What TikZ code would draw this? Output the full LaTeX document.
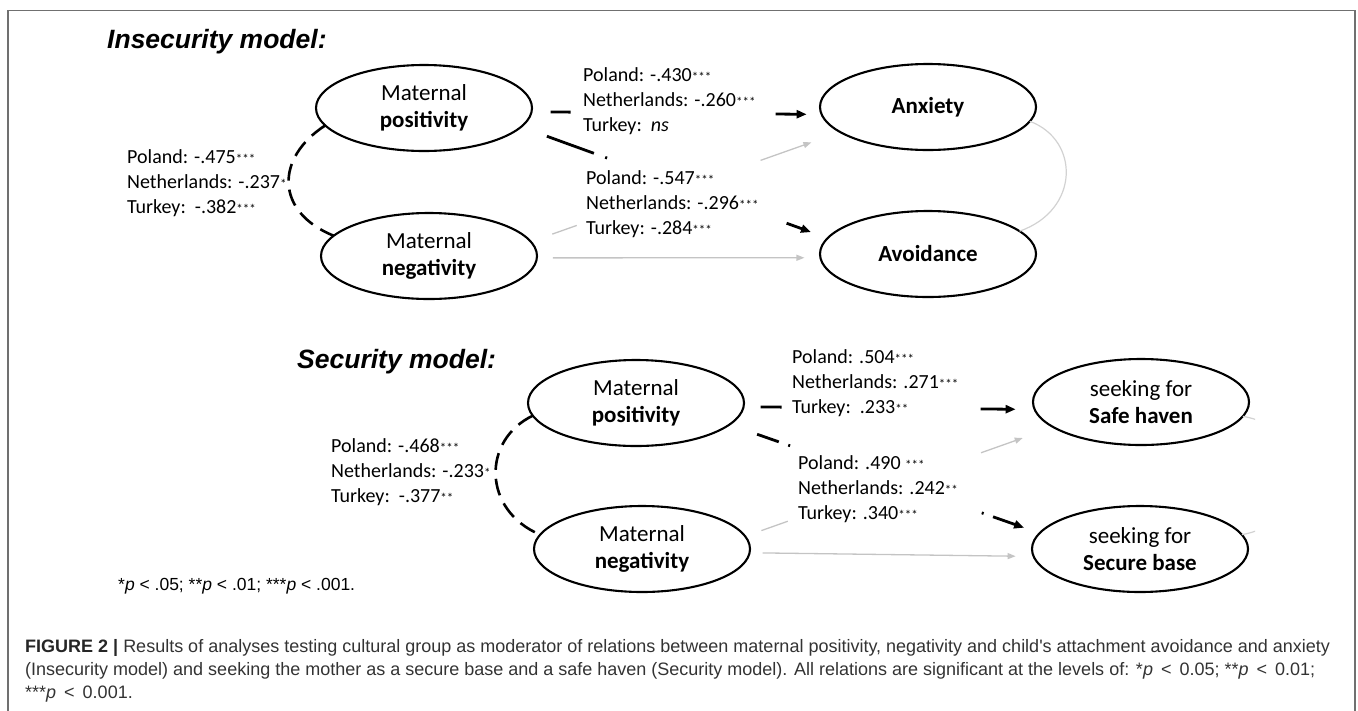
\documentclass[tikz,border=0pt]{standalone}
\usepackage{fontspec}
\setmainfont{Carlito}
\newfontfamily\arialf{Liberation Sans}
\usetikzlibrary{arrows.meta,shapes.geometric}
\definecolor{framegray}{HTML}{707070}
\definecolor{linegray}{HTML}{C4C4C4}
\definecolor{arcgray}{HTML}{D2D2D2}
\definecolor{captxt}{HTML}{333333}
\newcommand{\sg}[1]{{\fontsize{13}{13}\selectfont #1}}
\begin{document}
\begin{tikzpicture}[x=1pt,y=-1pt,
  lat/.style={draw=black, line width=2.1pt, ellipse, minimum width=216pt, minimum height=86pt,
    inner sep=0pt, outer sep=0pt, align=center, font=\fontsize{23}{27}\selectfont},
  lab/.style={anchor=north west, inner sep=0pt, align=left, font=\fontsize{20}{25}\selectfont},
  ttl/.style={anchor=west, inner sep=0pt, font=\arialf\bfseries\itshape\fontsize{26.5}{30}\selectfont},
  dpath/.style={draw=black, line width=2.8pt, -{Triangle[length=10pt,width=8pt]}},
  gpath/.style={draw=linegray, line width=1.3pt, -{Triangle[length=8pt,width=6pt]}},
  garc/.style={draw=arcgray, line width=1.2pt},
  corr/.style={draw=black, line width=2.6pt, dash pattern=on 17pt off 9pt},
  captext/.style={anchor=west, inner sep=0pt, text=captxt, font=\arialf\fontsize{18}{22}\selectfont},
  pnote/.style={anchor=west, inner sep=0pt, font=\arialf\fontsize{17.5}{20}\selectfont}]
\path[use as bounding box] (0,0) rectangle (1358,710);
\draw[framegray, line width=1.8pt] (8,10.5) rectangle (1355,760);

% ---------- Insecurity model ----------
\node[ttl] (t1) at (107,42) {Insecurity model:};
\node[lat] (pos1) at (424,108) {Maternal\\\textbf{positivity}};
\node[lat] (neg1) at (429,256) {Maternal\\\textbf{negativity}};
\node[lat] (anx) at (928,107) {\textbf{Anxiety}};
\node[lat] (avo) at (928,254) {\textbf{Avoidance}};

\node[lab] (c1) at (127,149) {Poland: -.475\sg{***}\\Netherlands: -.237\sg{*}\\Turkey:\ \ -.382\sg{***}};
\node[lab] (e1) at (583,67) {Poland: -.430\sg{***}\\Netherlands: -.260\sg{***}\\Turkey:\ \ \textit{ns}};
\node[lab] (e2) at (586,170) {Poland: -.547\sg{***}\\Netherlands: -.296\sg{***}\\Turkey: -.284\sg{***}};

\draw[corr] (pos1.190) .. controls (275,158) and (275,212) .. (neg1.168);
\draw[dpath, shorten <=19pt, shorten >=15pt, dash pattern=on 20pt off 205pt on 60pt] (pos1.-2) -- (anx.184);
\draw[dpath, shorten <=27.5pt, shorten >=17.7pt, dash pattern=on 50pt off 12pt on 2pt off 191pt on 60pt] (pos1.-11.5) -- (avo.171.6);
\draw[gpath, shorten <=22.7pt, shorten >=30.7pt, dash pattern=on 26pt off 195pt on 80pt] (neg1.8.8) -- (anx.196.8);
\draw[gpath, shorten <=16pt, shorten >=16pt] (neg1.-1) -- (avo.182.7);
\draw[garc] (anx.-8) .. controls (1080,140) and (1080,210) .. (avo.14);

% ---------- Security model ----------
\node[ttl] (t2) at (297,362) {Security model:};
\node[lat] (pos2) at (636,403) {Maternal\\\textbf{positivity}};
\node[lat] (neg2) at (642,549) {Maternal\\\textbf{negativity}};
\node[lat] (safe) at (1141,402) {seeking for\\\textbf{Safe haven}};
\node[lat] (sec) at (1140,549) {seeking for\\\textbf{Secure base}};

\node[lab] (c2) at (331,438) {Poland: -.468\sg{***}\\Netherlands: -.233\sg{*}\\Turkey:\ \ -.377\sg{**}};
\node[lab] (e3) at (792,349) {Poland: .504\sg{***}\\Netherlands: .271\sg{***}\\Turkey:\ \ .233\sg{**}};
\node[lab] (e4) at (798,455) {Poland: .490 \sg{***}\\Netherlands: .242\sg{**}\\Turkey: .340\sg{***}};

\draw[corr] (pos2.187.8) .. controls (482,440) and (482,510) .. (neg2.172.2);
\draw[dpath, shorten <=17pt, shorten >=19pt, dash pattern=on 21pt off 199pt on 60pt] (pos2.-2.7) -- (safe.184.3);
\draw[dpath, shorten <=29.3pt, shorten >=16.4pt, dash pattern=on 23pt off 10pt on 2pt off 203pt on 2pt off 10pt on 60pt] (pos2.-13.6) -- (sec.171.8);
\draw[gpath, shorten <=17.2pt, shorten >=32.5pt, dash pattern=on 28pt off 205pt on 80pt] (neg2.7.4) -- (safe.196.1);
\draw[gpath, shorten <=13pt, shorten >=18pt] (neg2.-2.7) -- (sec.184.3);
\begin{scope}
  \clip (0,0) rectangle (1255,710);
  \draw[garc] (safe.-8) .. controls (1320,430) and (1320,520) .. (sec.8);
\end{scope}

\node[pnote] (pn) at (118,586) {*\textit{p} < .05; **\textit{p} < .01; ***\textit{p} < .001.};

% ---------- caption ----------
\node[captext] (cap1) at (25,648) {\textbf{\color{black!85}FIGURE 2 |} Results of analyses testing cultural group as moderator of relations between maternal positivity, negativity and child's attachment avoidance and anxiety};
\node[captext] (cap2) at (25,671) {(Insecurity model) and seeking the mother as a secure base and a safe haven (Security model). All relations are significant at the levels of: *\textit{p} \,<\, 0.05; **\textit{p} \,<\, 0.01;};
\node[captext] (cap3) at (25,694) {***\textit{p} \,<\, 0.001.};
\end{tikzpicture}
\end{document}
